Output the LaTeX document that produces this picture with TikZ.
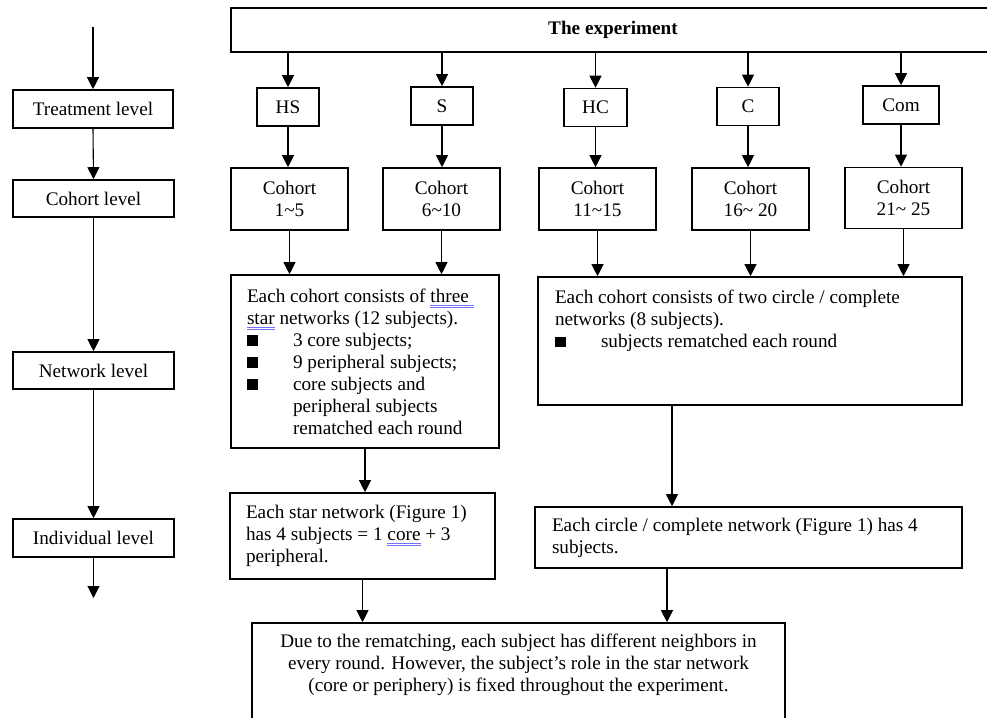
\documentclass[tikz,border=0pt]{standalone}
\usepackage{fontspec}
\setmainfont{Liberation Serif}
\usetikzlibrary{arrows.meta}
\newsavebox\markbox
\def\sqb{\makebox[46pt][l]{\rule[0.5pt]{11pt}{10.5pt}}}
\def\spellmark#1{\leavevmode\sbox\markbox{#1}\rlap{\color{blue!55}\rule[-3pt]{\wd\markbox}{0.6pt}}\rlap{\color{blue!55}\rule[-5pt]{\wd\markbox}{0.6pt}}\usebox\markbox}
\tikzset{
	plainbox/.style={draw, line width=1.6pt, inner sep=0pt, font=\fontsize{19.2pt}{22pt}\selectfont},
	arr/.style={-{Triangle[width=12pt,length=12pt]}, line width=1.1pt}
}

\begin{document}
\begin{tikzpicture}[x=1pt, y=-1pt]
		%%%%% START %%%%%
		\useasboundingbox (0,0) rectangle (987,717);
		\clip (0,0) rectangle (987,717);
		
		% levels on the left
		\coordinate (lvltop) at (93,27);
		\node[plainbox, minimum width=160pt, minimum height=38pt] (treat) at (93,109) {Treatment level};
		\node[plainbox, minimum width=161pt, minimum height=37pt] (cohlvl) at (93.5,198.5) {Cohort level};
		\node[plainbox, minimum width=161pt, minimum height=37pt] (netlvl) at (93.5,370.5) {Network level};
		\node[plainbox, minimum width=161pt, minimum height=38pt] (indlvl) at (93.5,538) {Individual level};
		\coordinate (lvlend) at (93.5,598);
		
		\draw[arr] (lvltop) -- (treat.north);
		\draw[arr] (treat.south) -- (cohlvl.north);
		\draw[arr] (cohlvl.south) -- (netlvl.north);
		\draw[arr] (netlvl.south) -- (indlvl.north);
		\draw[arr] (indlvl.south) -- (lvlend);
		
		% experiment and treatments
		\node[plainbox, minimum width=764pt, minimum height=44pt, font=\fontsize{19.2pt}{22pt}\selectfont\bfseries] (exp) at (613,30) {The experiment};
		
		\node[plainbox, minimum width=62pt, minimum height=38pt] (hs) at (288,107) {HS};
		\node[plainbox, minimum width=62pt, minimum height=38pt] (st) at (442,106) {S};
		\node[plainbox, minimum width=63pt, minimum height=38pt] (hc) at (595.5,107.5) {HC};
		\node[plainbox, minimum width=62pt, minimum height=38pt] (ci) at (748,106.5) {C};
		\node[plainbox, minimum width=76pt, minimum height=38pt] (com) at (901,105) {Com};
		
		\draw[arr] (hs |- exp.south) -- (hs.north);
		\draw[arr] (st |- exp.south) -- (st.north);
		\draw[arr] (hc |- exp.south) -- (hc.north);
		\draw[arr] (ci |- exp.south) -- (ci.north);
		\draw[arr] (com |- exp.south) -- (com.north);
		
		% cohorts
		\node[plainbox, minimum width=117pt, minimum height=62pt, align=center] (coh1) at (289.5,199) {Cohort\\1\textasciitilde5};
		\node[plainbox, minimum width=117pt, minimum height=62pt, align=center] (coh2) at (441.5,199) {Cohort\\6\textasciitilde10};
		\node[plainbox, minimum width=117pt, minimum height=62pt, align=center] (coh3) at (597.5,199) {Cohort\\11\textasciitilde15};
		\node[plainbox, minimum width=117pt, minimum height=62pt, align=center] (coh4) at (750.5,199) {Cohort\\16\textasciitilde{} 20};
		\node[plainbox, minimum width=117pt, minimum height=61pt, align=center] (coh5) at (903.5,198) {Cohort\\21\textasciitilde{} 25};
		
		\draw[arr] (hs.south) -- (hs.south |- coh1.north);
		\draw[arr] (st.south) -- (st.south |- coh2.north);
		\draw[arr] (hc.south) -- (hc.south |- coh3.north);
		\draw[arr] (ci.south) -- (ci.south |- coh4.north);
		\draw[arr] (com.south) -- (com.south |- coh5.north);
		
		% networks
		\node[plainbox, minimum width=268pt, minimum height=173pt, text width=236pt, align=flush left] (starnet) at (365,361.5) {Each cohort consists of \spellmark{three }\\
			\spellmark{star} networks (12 subjects).\\
			\sqb 3 core subjects;\\
			\sqb 9 peripheral subjects;\\
			\sqb core subjects and\\
			\hspace*{46pt}peripheral subjects\\
			\hspace*{46pt}rematched each round};
		\node[plainbox, minimum width=424pt, minimum height=128pt] (circnet) at (750,341) {\parbox[c][102pt][t]{390pt}{\raggedright Each cohort consists of two circle / complete\\
			networks (8 subjects).\\
			\sqb subjects rematched each round}};
		
		\draw[arr] (coh1.south) -- (coh1.south |- starnet.north);
		\draw[arr] (coh2.south) -- (coh2.south |- starnet.north);
		\draw[arr] (coh3.south) -- (coh3.south |- circnet.north);
		\draw[arr] (coh4.south) -- (coh4.south |- circnet.north);
		\draw[arr] (coh5.south) -- (coh5.south |- circnet.north);
		
		% individuals
		\node[plainbox, minimum width=265pt, minimum height=86pt, text width=233pt, align=flush left] (starind) at (362.5,536) {Each star network (Figure 1)\\
			has 4 subjects = 1 \spellmark{core} + 3\\
			peripheral.};
		\node[plainbox, minimum width=427pt, minimum height=61pt, text width=393pt, align=flush left] (circind) at (748.5,537.5) {Each circle / complete network (Figure 1) has 4\\
			subjects.};
		
		\draw[arr] (starnet.south) -- (starnet.south |- starind.north);
		\draw[arr] ([xshift=-78pt]circnet.south) -- ([xshift=-78pt]circnet.south |- circind.north);
		
		% conclusion
		\node[plainbox, minimum width=533pt, minimum height=120pt] (concl) at (518.5,683) {\parbox[c][98pt][t]{500pt}{\centering Due to the rematching, each subject has different neighbors in\\
			every round. However, the subject's role in the star network\\
			(core or periphery) is fixed throughout the experiment.}};
		
		\draw[arr] (starind.south) -- (starind.south |- concl.north);
		\draw[arr] ([xshift=-81.5pt]circind.south) -- ([xshift=-81.5pt]circind.south |- concl.north);
		
		%%%%% END %%%%%
	\end{tikzpicture}
\end{document}
